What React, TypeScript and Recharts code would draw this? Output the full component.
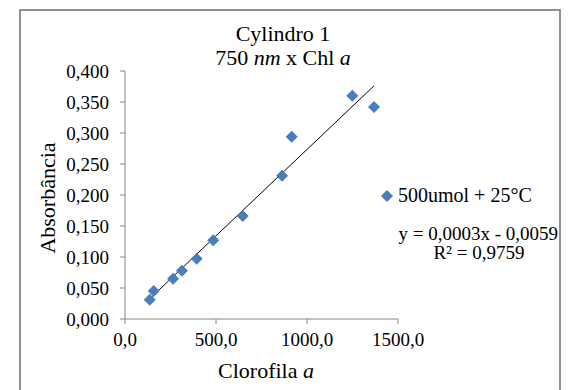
import React from 'react';
import { ScatterChart, Scatter, XAxis, YAxis, ReferenceLine } from 'recharts';

// Clorofila a (x) vs absorbância 750 nm (y)
const chlA = [136, 158, 264, 313, 394, 485, 647, 863, 916, 1249, 1368];
const absorb = [0.031, 0.045, 0.065, 0.078, 0.097, 0.127, 0.166, 0.231, 0.294, 0.36, 0.342];
const trendX = [137, 1368];
const trendY = [0.033, 0.376];
const xTicks = [0, 500, 1000, 1500];
const yTicks = [0, 0.05, 0.1, 0.15, 0.2, 0.25, 0.3, 0.35, 0.4];

const points = chlA.map((x, i) => ({ x, y: absorb[i] }));
const FONT = 'Liberation Serif';
const BLUE = '#4a7ebb';
const AXIS = '#868686';

const Diamond = (props: any) => {
  const { cx, cy } = props;
  const r = 6;
  return (
    <polygon
      points={`${cx},${cy - r} ${cx + r},${cy} ${cx},${cy + r} ${cx - r},${cy}`}
      fill={BLUE}
    />
  );
};

export default function App() {
  return (
    <div style={{ position: 'absolute', left: 0, top: 0, width: 570, height: 390, background: '#fff', overflow: 'hidden', fontFamily: FONT }}>
      <ScatterChart width={570} height={390} margin={{ top: 71, right: 172, bottom: 41, left: 65 }} style={{ fontFamily: FONT }}>
        <XAxis
          type="number"
          dataKey="x"
          domain={[0, 1500]}
          ticks={xTicks}
          height={30}
          stroke={AXIS}
          tickSize={5}
          tickMargin={9}
          tick={{ fill: '#000', fontSize: 19, fontFamily: FONT }}
          tickFormatter={(v) => v.toFixed(1).replace('.', ',')}
        />
        <YAxis
          type="number"
          dataKey="y"
          domain={[0, 0.4]}
          ticks={yTicks}
          width={60}
          stroke={AXIS}
          tickSize={5}
          tickMargin={11}
          tick={{ fill: '#000', fontSize: 19, fontFamily: FONT }}
          tickFormatter={(v) => v.toFixed(3).replace('.', ',')}
        />
        <ReferenceLine
          segment={[{ x: trendX[0], y: trendY[0] }, { x: trendX[1], y: trendY[1] }]}
          stroke="#000"
          strokeWidth={1}
        />
        <Scatter data={points} fill={BLUE} shape={<Diamond />} isAnimationActive={false} />
      </ScatterChart>
      <svg width={570} height={390} style={{ position: 'absolute', left: 0, top: 0, pointerEvents: 'none' }}>
        <rect x={20} y={10} width={540} height={385} fill="none" stroke="#6e6e6e" strokeWidth={1.5} />
        <g fill="#000" fontFamily={FONT}>
          <text x={283} y={41} fontSize={22} textAnchor="middle">Cylindro 1</text>
          <text x={283} y={65} fontSize={22} textAnchor="middle">
            750 <tspan fontStyle="italic">nm</tspan> x Chl <tspan fontStyle="italic">a</tspan>
          </text>
          <text x={266} y={378} fontSize={22} textAnchor="middle">
            Clorofila <tspan fontStyle="italic">a</tspan>
          </text>
          <text x={55} y={198} fontSize={22} textAnchor="middle" transform="rotate(-90 55 198)">Absorbância</text>
          <polygon points="387,190 393,196 387,202 381,196" fill={BLUE} />
          <text x={398} y={202} fontSize={20}>500umol + 25°C</text>
          <text x={558} y={240} fontSize={19} textAnchor="end">y = 0,0003x - 0,0059</text>
          <text x={479} y={259} fontSize={19} textAnchor="middle">R² = 0,9759</text>
        </g>
      </svg>
    </div>
  );
}
